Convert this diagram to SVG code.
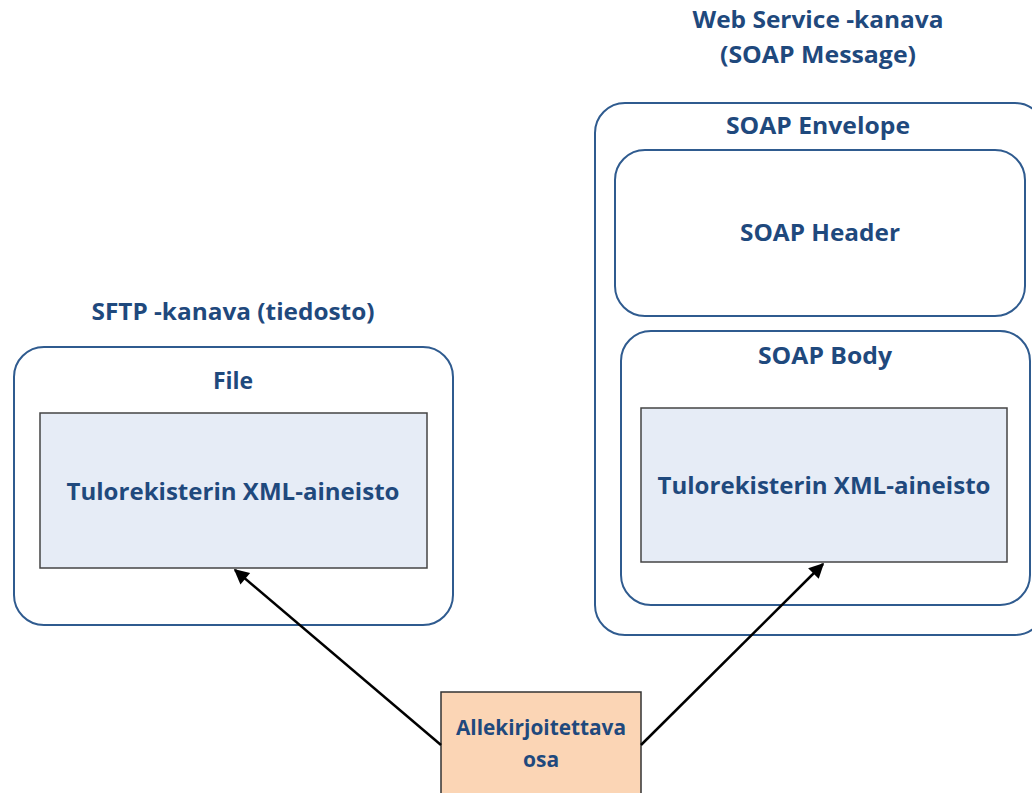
<svg xmlns="http://www.w3.org/2000/svg" width="1032" height="793" viewBox="0 0 1032 793">
<defs>
<style>
.t{font-family:"Open Sans","Noto Sans","Liberation Sans",sans-serif;font-weight:bold;fill:#1F497D;text-anchor:middle;}
.big{font-size:23px;}
.round{fill:#fff;stroke:#2F5B8F;stroke-width:2;}
.data{fill:#E6ECF6;stroke:#444;stroke-width:1.5;}
.conn{stroke:#000;stroke-width:2.5;fill:none;}
</style>
<marker id="ah" viewBox="0 0 10 10" refX="9" refY="5" markerWidth="7" markerHeight="6" orient="auto" markerUnits="strokeWidth">
<path d="M0,0 L10,5 L0,10 z" fill="#000"/>
</marker>
</defs>
<rect width="1032" height="793" fill="#fff"/>
<g id="sftp">
<text class="t big" x="233" y="320" textLength="283" lengthAdjust="spacingAndGlyphs">SFTP -kanava (tiedosto)</text>
<rect class="round" x="14" y="347" width="439" height="278" rx="30"/>
<text class="t big" x="233" y="389">File</text>
<rect class="data" x="40" y="413" width="387" height="155"/>
<text class="t big" x="233" y="500" textLength="333" lengthAdjust="spacingAndGlyphs">Tulorekisterin XML-aineisto</text>
</g>
<g id="ws">
<text class="t big" x="818" y="28" textLength="251" lengthAdjust="spacingAndGlyphs">Web Service -kanava</text>
<text class="t big" x="818" y="63" textLength="196" lengthAdjust="spacingAndGlyphs">(SOAP Message)</text>
<rect class="round" x="595" y="103" width="450" height="532" rx="30"/>
<text class="t big" x="818" y="134" textLength="184" lengthAdjust="spacingAndGlyphs">SOAP Envelope</text>
<rect class="round" x="615" y="150" width="410" height="166" rx="30"/>
<text class="t big" x="820" y="241" textLength="160" lengthAdjust="spacingAndGlyphs">SOAP Header</text>
<rect class="round" x="621" y="331" width="409" height="274" rx="30"/>
<text class="t big" x="825" y="364" textLength="134" lengthAdjust="spacingAndGlyphs">SOAP Body</text>
<rect class="data" x="641" y="408" width="366" height="154"/>
<text class="t big" x="824" y="494" textLength="333" lengthAdjust="spacingAndGlyphs">Tulorekisterin XML-aineisto</text>
</g>
<g id="sign">
<rect x="441" y="692" width="200" height="110" fill="#FBD5B5" stroke="#333" stroke-width="1.5"/>
<text class="t" font-size="21" x="541" y="735" textLength="170" lengthAdjust="spacingAndGlyphs">Allekirjoitettava</text>
<text class="t" font-size="21" x="541" y="767">osa</text>
</g>
<g id="connectors">
<line class="conn" x1="441" y1="745" x2="235" y2="570" marker-end="url(#ah)"/>
<line class="conn" x1="641" y1="745" x2="823" y2="564" marker-end="url(#ah)"/>
</g>
</svg>
